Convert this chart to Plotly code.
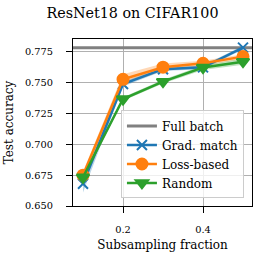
import plotly.graph_objects as go

fractions = [0.1, 0.2, 0.3, 0.4, 0.5]
full_batch = 0.7785
grad_match = [0.668, 0.749, 0.761, 0.7625, 0.7785]
grad_match_std = [0.007, 0.002, 0.0015, 0.0015, 0.0015]
loss_based = [0.675, 0.7528, 0.7626, 0.7658, 0.7712]
loss_based_std = [0.003, 0.004, 0.003, 0.002, 0.002]
random_sel = [0.6733, 0.7368, 0.7509, 0.7623, 0.7671]
random_std = [0.002, 0.0015, 0.0015, 0.002, 0.0025]

x_range = [0.075, 0.5225]
y_range = [0.650, 0.7855]
x_ticks = [0.2, 0.4]
y_ticks = [0.650, 0.675, 0.700, 0.725, 0.750, 0.775]

colors = {"Grad. match": "#1f77b4", "Loss-based": "#ff7f0e", "Random": "#2ca02c"}
bands = {"Grad. match": "rgba(31,119,180,0.3)", "Loss-based": "rgba(255,127,14,0.3)", "Random": "rgba(44,160,44,0.3)"}
symbols = {"Grad. match": "x-thin-open", "Loss-based": "circle", "Random": "triangle-down"}
sizes = {"Grad. match": 10, "Loss-based": 11, "Random": 11}

series = [("Grad. match", grad_match, grad_match_std),
          ("Loss-based", loss_based, loss_based_std),
          ("Random", random_sel, random_std)]

font = "DejaVu Serif"
fig = go.Figure()

fig.add_trace(go.Scatter(x=x_range, y=[full_batch, full_batch], mode="lines",
                         line=dict(color="#808080", width=3), name="Full batch"))

for name, vals, std in series:
    upper = [v + s for v, s in zip(vals, std)]
    lower = [v - s for v, s in zip(vals, std)]
    fig.add_trace(go.Scatter(x=fractions + fractions[::-1], y=upper + lower[::-1],
                             fill="toself", fillcolor=bands[name], line=dict(width=0),
                             mode="lines", showlegend=False, hoverinfo="skip"))

for name, vals, std in series:
    fig.add_trace(go.Scatter(x=fractions, y=vals, mode="lines+markers", name=name,
                             line=dict(color=colors[name], width=2.5),
                             marker=dict(symbol=symbols[name], size=sizes[name], color=colors[name],
                                         line=dict(color=colors[name], width=2))))

fig.update_layout(
    width=265, height=265,
    margin=dict(l=73, r=13, t=39, b=59, autoexpand=False),
    paper_bgcolor="white", plot_bgcolor="white",
    font=dict(family=font, size=12, color="black"),
    title=dict(text="ResNet18 on CIFAR100", x=0.5, xanchor="center", xref="container",
               y=1 - 12.5 / 265, yanchor="middle", yref="container",
               font=dict(family=font, size=14.3, color="black")),
    showlegend=True,
    legend=dict(x=0.955, y=0.045, xanchor="right", yanchor="bottom",
                bgcolor="rgba(255,255,255,0.8)", bordercolor="#cccccc", borderwidth=1,
                font=dict(family=font, size=12), tracegroupgap=0, itemsizing="trace",
                itemwidth=30),
)
fig.update_xaxes(range=x_range, tickvals=x_ticks, ticktext=["0.2", "0.4"],
                 showgrid=True, gridcolor="#b0b0b0", gridwidth=1,
                 showline=True, linecolor="black", linewidth=1.2, mirror=True,
                 ticks="outside", ticklen=6, tickcolor="black", zeroline=False,
                 tickfont=dict(family=font, size=9.8), ticklabelstandoff=8, automargin=False,
                 title=dict(text="Subsampling fraction", font=dict(family=font, size=12), standoff=6))
fig.update_yaxes(range=y_range, tickvals=y_ticks, ticktext=[f"{t:.3f}" for t in y_ticks],
                 showgrid=True, gridcolor="#b0b0b0", gridwidth=1,
                 showline=True, linecolor="black", linewidth=1.2, mirror=True,
                 ticks="outside", ticklen=6, tickcolor="black", zeroline=False,
                 tickfont=dict(family=font, size=9.8), ticklabelstandoff=11, automargin=False,
                 title=dict(text="Test accuracy", font=dict(family=font, size=12), standoff=8))

fig.write_html("out.html", config={"displayModeBar": False},
               post_script="document.body.style.margin='0';document.body.style.padding='0';")
